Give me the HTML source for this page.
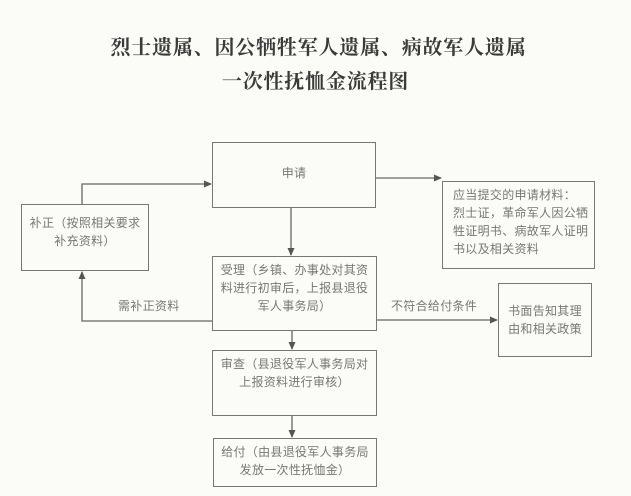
<!DOCTYPE html>
<html><head><meta charset="utf-8"><style>
body{margin:0;width:631px;height:496px;background:#fbfbf8;position:relative;overflow:hidden;font-family:"Liberation Sans","Noto Sans CJK SC",sans-serif;color:#777;}
.t{position:absolute;font-family:"Liberation Serif","Noto Serif CJK SC",serif;font-weight:bold;font-size:20px;color:#3a3a3a;white-space:nowrap;left:0;width:631px;text-align:center;letter-spacing:0.8px}
.b{position:absolute;border:1.3px solid #777;box-sizing:border-box;font-size:12px;line-height:18px;color:#777;white-space:nowrap;letter-spacing:0.3px}
.l{position:absolute;font-size:12px;color:#777;white-space:nowrap;letter-spacing:0.3px}
</style></head><body>
<div class="t" style="top:31px;left:3px">烈士遗属、因公牺牲军人遗属、病故军人遗属</div>
<div class="t" style="top:65px;left:0px">一次性抚恤金流程图</div>

<div class="b" style="left:212px;top:142px;width:164px;height:66px;text-align:center;padding-top:21px">申请</div>
<div class="b" style="left:21px;top:204px;width:128px;height:67px;text-align:center;padding-top:9px">补正（按照相关要求<br>补充资料）</div>
<div class="b" style="left:212px;top:256px;width:165px;height:75px;padding-top:4px;text-align:center">受理（乡镇、办事处对其资<br>料进行初审后，上报县退役<br>军人事务局）</div>
<div class="b" style="left:442px;top:181px;width:153px;height:88px;padding:4px 0 0 10px">应当提交的申请材料：<br>烈士证，革命军人因公牺<br>牲证明书、病故军人证明<br>书以及相关资料</div>
<div class="b" style="left:498px;top:283px;width:94px;height:74px;text-align:center;padding-top:18px">书面告知其理<br>由和相关政策</div>
<div class="b" style="left:212px;top:350px;width:165px;height:66px;padding-top:4px;text-align:center">审查（县退役军人事务局对<br>上报资料进行审核）</div>
<div class="b" style="left:213px;top:438px;width:164px;height:49px;padding-top:4px;text-align:center">给付（由县退役军人事务局<br>发放一次性抚恤金）</div>

<div class="l" style="left:118px;top:297px">需补正资料</div>
<div class="l" style="left:391px;top:297px">不符合给付条件</div>

<svg width="631" height="496" style="position:absolute;left:0;top:0" fill="none" stroke="#666" stroke-width="1.3">
<defs><marker id="a" markerWidth="8" markerHeight="8" refX="7" refY="4" orient="auto" markerUnits="userSpaceOnUse"><path d="M0,0.5 L8,4 L0,7.5z" fill="#555" stroke="none"/></marker></defs>
<polyline points="82,204 82,184 211,184" marker-end="url(#a)"/>
<line x1="376" y1="178" x2="441" y2="178" marker-end="url(#a)"/>
<line x1="291" y1="208" x2="291" y2="255" marker-end="url(#a)"/>
<polyline points="212,321 82,321 82,272" marker-end="url(#a)"/>
<line x1="377" y1="320" x2="497" y2="320" marker-end="url(#a)"/>
<line x1="292" y1="331" x2="292" y2="349" marker-end="url(#a)"/>
<line x1="292" y1="416" x2="292" y2="437" marker-end="url(#a)"/>
</svg>
</body></html>
